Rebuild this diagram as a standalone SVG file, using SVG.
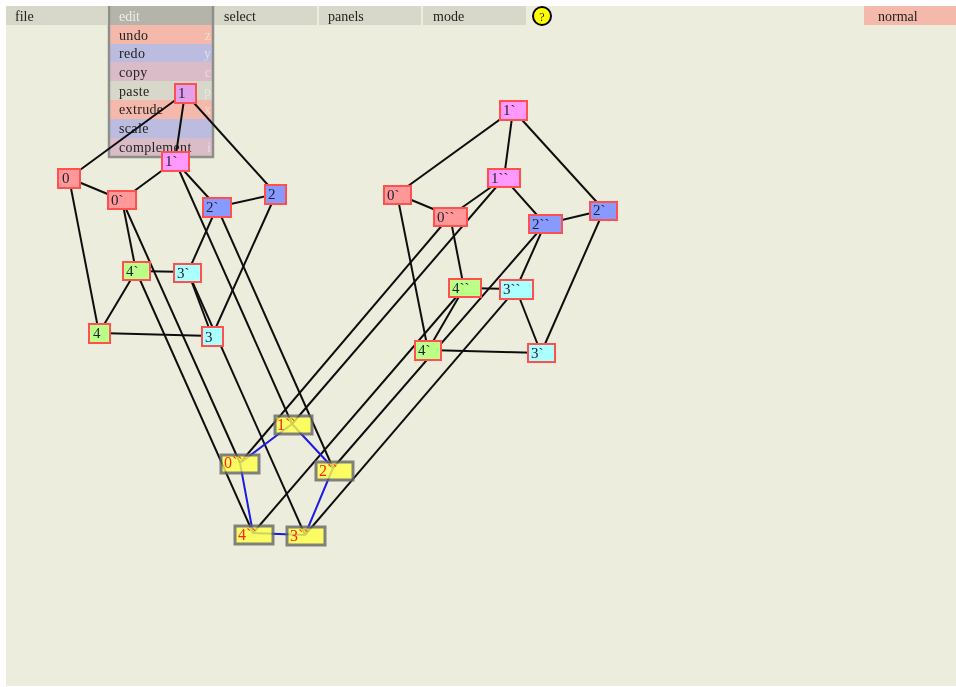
<svg xmlns="http://www.w3.org/2000/svg" width="956" height="687" viewBox="0 0 956 687">
<defs>
<filter id="soft" x="0" y="0" width="956" height="687" filterUnits="userSpaceOnUse"><feGaussianBlur stdDeviation="0.6"/></filter>
</defs>
<style>
text{font-family:"Liberation Serif",serif;font-size:14px;fill:#222}
.bar{fill:#d8d8ca}
.mt{letter-spacing:.35px}
.key{fill:#f3f1ea;text-anchor:end;opacity:.6}
.k{stroke:#111;stroke-width:2;fill:none}
.b{stroke:#1a1ae6;stroke-width:2;fill:none}
.n rect{stroke:#ff5050;stroke-width:2}
.n text{font-size:15px;fill:#223}
.y rect{fill:#ffff44;stroke:#666;stroke-width:3;opacity:.8}
.y text{font-size:16px;fill:#f22}
.pk{fill:#ff99ff}.rd{fill:#ff9999}.bl{fill:#8899ff}.gr{fill:#bbff88}.cy{fill:#aaffff}
</style>
<g filter="url(#soft)">
<rect x="0" y="0" width="956" height="687" fill="#fff"/>
<rect x="6" y="6" width="950" height="680" fill="#ededdd"/>
<g id="menubar">
<rect class="bar" x="6" y="6" width="101" height="19"/><text x="15" y="21">file</text>
<rect class="bar" x="214" y="6" width="103" height="19"/><text x="224" y="21">select</text>
<rect class="bar" x="319" y="6" width="102" height="19"/><text x="328" y="21">panels</text>
<rect class="bar" x="423" y="6" width="103" height="19"/><text x="433" y="21">mode</text>
<circle cx="542" cy="16" r="9" fill="#ffff00" stroke="#000" stroke-width="2"/><text x="542" y="21" text-anchor="middle" style="font-size:12px">?</text>
<rect x="864" y="6" width="92" height="19" fill="#f4b9aa"/><text x="878" y="21">normal</text>
</g>
<g id="edit-menu">
<rect x="109" y="6" width="104" height="19" fill="#b4b4aa"/>
<rect x="109" y="25" width="104" height="19" fill="#f4b9aa"/>
<rect x="109" y="44" width="104" height="18" fill="#bcbce0"/>
<rect x="109" y="62" width="104" height="19" fill="#dabcc8"/>
<rect x="109" y="81" width="104" height="19" fill="#d8d8ca"/>
<rect x="109" y="100" width="104" height="19" fill="#f4b9aa"/>
<rect x="109" y="119" width="104" height="19" fill="#bcbce0"/>
<rect x="109" y="138" width="104" height="19" fill="#dabcc8"/>
<path d="M109 6V157H213V6" fill="none" stroke="#8e8e8a" stroke-width="2.5"/>
<text x="119" y="21" style="fill:#eeeeea">edit</text>
<text class="mt" x="119" y="40">undo</text><text class="key" x="211" y="40">z</text>
<text class="mt" x="119" y="58">redo</text><text class="key" x="211" y="58">y</text>
<text class="mt" x="119" y="77">copy</text><text class="key" x="211" y="77">c</text>
<text class="mt" x="119" y="96">paste</text><text class="key" x="211" y="96">p</text>
<text class="mt" x="119" y="114">extrude</text><text class="key" x="211" y="114">x</text>
<text class="mt" x="119" y="133">scale</text>
<text class="mt" x="119" y="152">complement</text><text class="key" x="211" y="152">i</text>
</g>
<g id="connectors">
<g class="k">
<path d="M185 93L69 178M185 93L175 161M185 93L276 194M69 178L122 200M69 178L99 333M175 161L122 200M175 161L217 207M276 194L217 207M276 194L212 336M217 207L188 272M122 200L136 271M136 271L188 272M136 271L99 333M188 272L212 336M99 333L212 336"/>
<path d="M513 110L397 194M513 110L504 178M513 110L604 210M397 194L450 216M397 194L428 350M504 178L450 216M504 178L545 224M604 210L545 224M604 210L541 353M545 224L516 289M450 216L464 288M464 288L516 289M464 288L428 350M516 289L541 353M428 350L541 353"/>
<path d="M122 200L240 463M175 161L292 424M217 207L333 468M188 272L305 535M136 271L253 533"/>
<path d="M450 216L240 463M504 178L292 424M545 224L333 468M516 289L305 535M464 288L253 533"/>
</g>
<path class="b" d="M292 424L240 463M292 424L333 468M240 463L253 533M333 468L305 535M253 533L305 535"/>
</g>
<g id="n1" class="n"><rect x="175" y="84" width="21" height="19" fill="#e2a0ea"/><text x="178" y="98">1</text></g>
<g id="n0" class="n"><rect class="rd" x="58" y="169" width="22" height="19"/><text x="62" y="183">0</text></g>
<g id="n2" class="n"><rect class="bl" x="265" y="185" width="21" height="19"/><text x="268" y="199">2</text></g>
<g id="n3" class="n"><rect class="cy" x="202" y="327" width="21" height="19"/><text x="205" y="342">3</text></g>
<g id="n4" class="n"><rect class="gr" x="89" y="324" width="21" height="19"/><text x="93" y="338">4</text></g>
<g id="n1p" class="n"><rect class="pk" x="162" y="152" width="27" height="19"/><text x="165" y="166">1`</text></g>
<g id="n0p" class="n"><rect class="rd" x="108" y="191" width="28" height="18"/><text x="111" y="205">0`</text></g>
<g id="n2p" class="n"><rect class="bl" x="203" y="198" width="28" height="19"/><text x="206" y="212">2`</text></g>
<g id="n3p" class="n"><rect class="cy" x="174" y="264" width="27" height="18"/><text x="177" y="278">3`</text></g>
<g id="n4p" class="n"><rect class="gr" x="123" y="262" width="27" height="18"/><text x="126" y="276">4`</text></g>
<g id="r1" class="n"><rect class="pk" x="500" y="101" width="27" height="19"/><text x="503" y="115">1`</text></g>
<g id="r0" class="n"><rect class="rd" x="384" y="186" width="27" height="18"/><text x="387" y="200">0`</text></g>
<g id="r2" class="n"><rect class="bl" x="590" y="202" width="27" height="18"/><text x="593" y="215">2`</text></g>
<g id="r3" class="n"><rect class="cy" x="528" y="344" width="27" height="18"/><text x="531" y="358">3`</text></g>
<g id="r4" class="n"><rect class="gr" x="415" y="341" width="26" height="19"/><text x="418" y="355">4`</text></g>
<g id="r1b" class="n"><rect class="pk" x="488" y="169" width="32" height="18"/><text x="491" y="183">1``</text></g>
<g id="r0b" class="n"><rect class="rd" x="434" y="208" width="33" height="18"/><text x="437" y="222">0``</text></g>
<g id="r2b" class="n"><rect class="bl" x="529" y="215" width="33" height="18"/><text x="532" y="229">2``</text></g>
<g id="r3b" class="n"><rect class="cy" x="500" y="280" width="33" height="19"/><text x="503" y="294">3``</text></g>
<g id="r4b" class="n"><rect class="gr" x="449" y="279" width="32" height="18"/><text x="452" y="293">4``</text></g>
<g id="y1" class="y"><rect x="275" y="416" width="37" height="18"/><text x="277" y="430">1``</text></g>
<g id="y0" class="y"><rect x="221" y="455" width="38" height="18"/><text x="224" y="468">0``</text></g>
<g id="y2" class="y"><rect x="316" y="462" width="37" height="18"/><text x="319" y="476">2``</text></g>
<g id="y4" class="y"><rect x="235" y="526" width="38" height="18"/><text x="238" y="540">4``</text></g>
<g id="y3" class="y"><rect x="287" y="527" width="38" height="18"/><text x="290" y="541">3``</text></g>
</g>
</svg>
